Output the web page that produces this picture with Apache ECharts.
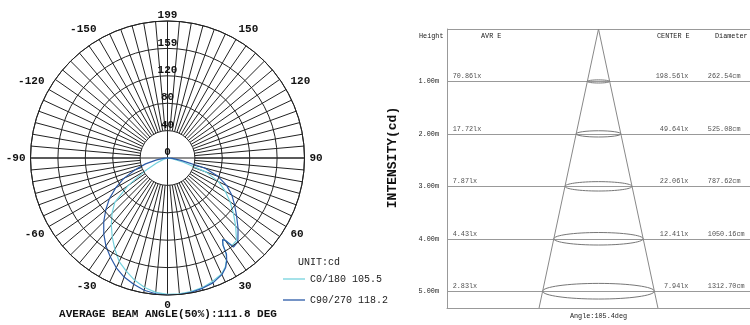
<!DOCTYPE html>
<html><head><meta charset="utf-8">
<script src="https://cdn.jsdelivr.net/npm/echarts@6/dist/echarts.min.js"></script>
<style>html,body{margin:0;padding:0;background:#fff}#c{width:750px;height:325px}</style>
</head><body><div id="c"></div>
<script>
// ---- Polar (intensity) data ----
const polarAngles = [-90,-85,-80,-75,-70,-65,-60,-55,-50,-45,-40,-35,-30,-25,-20,-15,-10,-5,
  0,5,10,15,20,25,28,30,31.5,32.5,34,35,36.5,40,45,50,55,60,65,70,75,80,85,90];
const c0Values  = [0,0,1,3,7,18,38,70,100,114,127,140,153,166,175,184,191,196,
  198,198,197,195,191,186,179,171,163,150,143,146,158,156,140,125,111,97,82,60,24,8,2,0];
const c90Values = [0,6,16,33,50,70,87,103,117,131,144,156,166,176,184,190,195,198,
  199,199,198,196,193,187,180,172,164,150,143,146,161,159,145,131,119,108,95,78,56,20,7,0];
const seriesNames = ['C0/180 105.5', 'C90/270 118.2'];
const ringMax = 199;
const ringLabels = ['0','40','80','120','159','199'];
const angleTickValues = [-180,-150,-120,-90,-60,-30,0,30,60,90,120,150,180];
const angleTickLabels = ['','-150','-120','-90','-60','-30','0','30','60','90','120','150',''];
const beamTitle = 'AVERAGE BEAM ANGLE(50%):111.8 DEG';
const unitLabel = 'UNIT:cd';
const sideLabel = 'INTENSITY(cd)';

// ---- Cone (illuminance) data ----
const heights = [1, 2, 3, 4, 5];
const heightLabels = ['1.00m','2.00m','3.00m','4.00m','5.00m'];
const avrE = ['70.86lx','17.72lx','7.87lx','4.43lx','2.83lx'];
const centerE = ['198.56lx','49.64lx','22.06lx','12.41lx','7.94lx'];
const diameterCm = [262.54, 525.08, 787.62, 1050.16, 1312.70];
const diameterLabels = ['262.54cm','525.08cm','787.62cm','1050.16cm','1312.70cm'];
const beamAngleDeg = 105.4;
const columnHeaders = ['Height','AVR E','CENTER E','Diameter'];

// ---- build ----
const C = [167.5, 158];
const R = 137;
const MONO = "'Liberation Mono', 'DejaVu Sans Mono', monospace";
const CYAN = '#74d2de', BLUE = '#2b5aa8';
const GRID = '#222';
const yMax = 5.32;
const xHalf = 17.8;
const coneHalf = Math.tan(beamAngleDeg / 2 * Math.PI / 180) * yMax;
const small = { fontFamily: MONO, fontSize: 6.8, color: '#1a1a1a' };

function rowLabels(x, arr, pos) {
  return {
    type: 'scatter', xAxisIndex: 0, yAxisIndex: 0, symbolSize: 0, silent: true,
    data: heights.map(h => [x, h]),
    label: { show: true, position: pos, distance: 0, offset: [0, -5], ...small,
      formatter: p => arr[p.dataIndex] }
  };
}

const option = {
  animation: false,
  backgroundColor: '#fff',
  polar: [
    { center: C, radius: [R * 40 / ringMax, R] },
    { center: C, radius: [0, R] },
    { center: C, radius: [0, R] }
  ],
  angleAxis: [
    { polarIndex: 0, type: 'value', min: 0, max: 360, interval: 5, startAngle: 90,
      axisLine: { show: false }, axisTick: { show: false }, axisLabel: { show: false },
      splitLine: { show: true, lineStyle: { color: GRID, width: 1 } } },
    { polarIndex: 1, type: 'value', min: -180, max: 180, interval: 30, startAngle: 90, clockwise: false,
      axisLine: { show: true, lineStyle: { color: GRID, width: 1 } }, axisTick: { show: false },
      splitLine: { show: false },
      axisLabel: { show: true, margin: 5, fontFamily: MONO, fontSize: 11, fontWeight: 'bold', color: '#111',
        formatter: v => { const i = angleTickValues.indexOf(Math.round(v)); return i >= 0 ? angleTickLabels[i] : ''; } } },
    { polarIndex: 2, type: 'value', min: 0, max: 360, interval: 90, startAngle: 90,
      axisLine: { show: false }, axisTick: { show: false }, axisLabel: { show: false },
      splitLine: { show: true, lineStyle: { color: GRID, width: 1 } } }
  ],
  radiusAxis: [
    { polarIndex: 0, type: 'value', min: 0, max: 1, axisLine: { show: false }, axisTick: { show: false },
      axisLabel: { show: false }, splitLine: { show: false } },
    { polarIndex: 1, type: 'value', min: 0, max: ringMax, interval: ringMax / 5, z: 5,
      axisLine: { show: false }, axisTick: { show: false },
      splitLine: { show: true, lineStyle: { color: GRID, width: 1 } },
      axisLabel: { show: true, margin: 0, rotate: 0, align: 'center', verticalAlign: 'bottom',
        fontFamily: MONO, fontSize: 11, fontWeight: 'bold', color: '#111',
        formatter: v => ringLabels[Math.round(v / (ringMax / 5))] } },
    { polarIndex: 2, type: 'value', min: 0, max: 1, axisLine: { show: false }, axisTick: { show: false },
      axisLabel: { show: false }, splitLine: { show: false } }
  ],
  grid: { left: 447, top: 29, right: -8, bottom: 12.3, show: false },
  xAxis: { type: 'value', gridIndex: 0, min: -xHalf, max: xHalf,
    axisLine: { show: true, onZero: false, lineStyle: { color: '#999' } }, axisTick: { show: false },
    axisLabel: { show: false }, splitLine: { show: false },
    name: 'Angle:' + beamAngleDeg + 'deg', nameLocation: 'middle', nameGap: 5,
    nameTextStyle: { ...small, verticalAlign: 'top' } },
  yAxis: { type: 'value', gridIndex: 0, inverse: true, min: 0, max: yMax, interval: 1,
    axisLine: { show: true, onZero: false, lineStyle: { color: '#999' } }, axisTick: { show: false },
    splitLine: { show: true, lineStyle: { color: '#999', width: 1 } },
    axisLabel: { margin: 8, ...small, formatter: v => { const i = heights.indexOf(v); return i >= 0 ? heightLabels[i] : ''; } } },
  legend: { orient: 'vertical', left: 278, top: 269, icon: 'rect', itemWidth: 22, itemHeight: 1.3, itemGap: 11,
    textStyle: { fontFamily: MONO, fontSize: 10, lineHeight: 10, color: '#222' }, data: seriesNames },
  series: [
    { name: seriesNames[0], type: 'line', coordinateSystem: 'polar', polarIndex: 1, symbol: 'none',
      color: CYAN, lineStyle: { color: CYAN, width: 1.2 }, z: 3,
      data: polarAngles.map((a, i) => [c0Values[i], a]) },
    { name: seriesNames[1], type: 'line', coordinateSystem: 'polar', polarIndex: 1, symbol: 'none',
      color: BLUE, lineStyle: { color: BLUE, width: 1.2 }, z: 4,
      data: polarAngles.map((a, i) => [c90Values[i], a]) },
    { type: 'line', xAxisIndex: 0, yAxisIndex: 0, symbol: 'none', silent: true,
      lineStyle: { color: '#888', width: 1 },
      data: [[-coneHalf, yMax], [0, 0], [coneHalf, yMax]] },
    { type: 'custom', xAxisIndex: 0, yAxisIndex: 0, silent: true,
      data: heights.map((h, i) => [0, h, diameterCm[i] / 100]),
      renderItem: (params, api) => {
        const c = api.coord([api.value(0), api.value(1)]);
        const w = api.size([api.value(2), 0])[0];
        return { type: 'ellipse', shape: { cx: c[0], cy: c[1], rx: w / 2, ry: w * 0.07 },
          style: { fill: 'none', stroke: '#777', lineWidth: 1 } };
      } },
    rowLabels(-17.13, avrE, 'right'),
    rowLabels(10.56, centerE, 'left'),
    rowLabels(12.85, diameterLabels, 'right')
  ],
  graphic: { elements: [
    { type: 'text', x: 168, y: 314, style: { text: beamTitle, align: 'center', verticalAlign: 'middle',
      font: "bold 11px " + MONO, fill: '#111' } },
    { type: 'text', x: 298, y: 262, style: { text: unitLabel, align: 'left', verticalAlign: 'middle',
      font: "10px " + MONO, fill: '#222' } },
    { type: 'text', x: 393, y: 157.5, rotation: Math.PI / 2, style: { text: sideLabel, align: 'center',
      verticalAlign: 'middle', font: "bold 13px " + MONO, fill: '#111' } },
    { type: 'text', x: 419, y: 36, style: { text: columnHeaders[0], verticalAlign: 'middle', font: "6.8px " + MONO, fill: '#1a1a1a' } },
    { type: 'text', x: 481, y: 36, style: { text: columnHeaders[1], verticalAlign: 'middle', font: "6.8px " + MONO, fill: '#1a1a1a' } },
    { type: 'text', x: 657, y: 36, style: { text: columnHeaders[2], verticalAlign: 'middle', font: "6.8px " + MONO, fill: '#1a1a1a' } },
    { type: 'text', x: 715, y: 36, style: { text: columnHeaders[3], verticalAlign: 'middle', font: "6.8px " + MONO, fill: '#1a1a1a' } }
  ] }
};
const chart = echarts.init(document.getElementById('c'), null, { renderer: 'canvas' });
chart.setOption(option);
</script></body></html>
